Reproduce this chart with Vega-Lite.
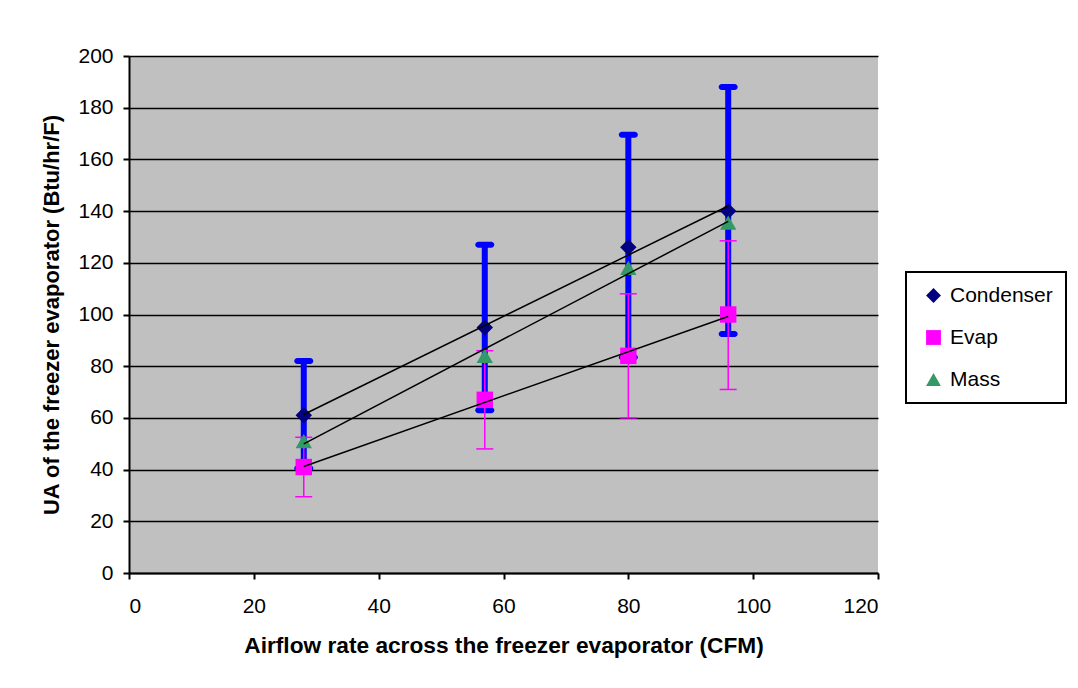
{
  "$schema": "https://vega.github.io/schema/vega-lite/v6.json",
  "autosize": "none",
  "width": 749,
  "height": 517,
  "padding": {"left": 129, "top": 56, "right": 200, "bottom": 115},
  "background": "white",
  "data": {
    "values": [
      {"airflow": 28, "series": "Condenser", "ua": 61, "low": 40.5, "high": 82},
      {"airflow": 57, "series": "Condenser", "ua": 95, "low": 63, "high": 127},
      {"airflow": 80, "series": "Condenser", "ua": 126, "low": 83.5, "high": 169.5},
      {"airflow": 96, "series": "Condenser", "ua": 140, "low": 92.5, "high": 188},
      {"airflow": 28, "series": "Evap", "ua": 41, "low": 29.5, "high": 52.5},
      {"airflow": 57, "series": "Evap", "ua": 67, "low": 48, "high": 86},
      {"airflow": 80, "series": "Evap", "ua": 84, "low": 60, "high": 108},
      {"airflow": 96, "series": "Evap", "ua": 100, "low": 71, "high": 128.5},
      {"airflow": 28, "series": "Mass", "ua": 51, "low": null, "high": null},
      {"airflow": 57, "series": "Mass", "ua": 84, "low": null, "high": null},
      {"airflow": 80, "series": "Mass", "ua": 118, "low": null, "high": null},
      {"airflow": 96, "series": "Mass", "ua": 135.5, "low": null, "high": null}
    ]
  },
  "encoding": {
    "x": {
      "field": "airflow",
      "type": "quantitative",
      "scale": {"domain": [0, 120], "nice": false, "zero": true},
      "axis": {
        "title": "Airflow rate across the freezer evaporator (CFM)",
        "values": [0, 20, 40, 60, 80, 100, 120],
        "grid": false,
        "labelPadding": 16,
        "titlePadding": 18,
        "titleFontSize": 22.7
      }
    }
  },
  "layer": [
    {
      "transform": [{"filter": "datum.series === 'Condenser'"}],
      "mark": {"type": "rule", "color": "#0000FF", "strokeWidth": 6},
      "encoding": {
        "y": {
          "field": "low",
          "type": "quantitative",
          "scale": {"domain": [0, 200], "nice": false},
          "axis": {
            "title": "UA of the freezer evaporator (Btu/hr/F)",
            "values": [0, 20, 40, 60, 80, 100, 120, 140, 160, 180, 200],
            "grid": true,
            "titlePadding": 14
          }
        },
        "y2": {"field": "high"}
      }
    },
    {
      "transform": [{"filter": "datum.series === 'Condenser'"}],
      "mark": {"type": "tick", "orient": "horizontal", "color": "#0000FF", "size": 19, "thickness": 6, "cornerRadius": 3, "opacity": 1},
      "encoding": {"y": {"field": "high", "type": "quantitative"}}
    },
    {
      "transform": [{"filter": "datum.series === 'Condenser'"}],
      "mark": {"type": "tick", "orient": "horizontal", "color": "#0000FF", "size": 19, "thickness": 6, "cornerRadius": 3, "opacity": 1},
      "encoding": {"y": {"field": "low", "type": "quantitative"}}
    },
    {
      "transform": [{"filter": "datum.series === 'Evap'"}],
      "mark": {"type": "rule", "color": "#FF00FF", "strokeWidth": 1.5},
      "encoding": {
        "y": {"field": "low", "type": "quantitative"},
        "y2": {"field": "high"}
      }
    },
    {
      "transform": [{"filter": "datum.series === 'Evap'"}],
      "mark": {"type": "tick", "orient": "horizontal", "color": "#FF00FF", "size": 17, "thickness": 1.5, "opacity": 1},
      "encoding": {"y": {"field": "high", "type": "quantitative"}}
    },
    {
      "transform": [{"filter": "datum.series === 'Evap'"}],
      "mark": {"type": "tick", "orient": "horizontal", "color": "#FF00FF", "size": 17, "thickness": 1.5, "opacity": 1},
      "encoding": {"y": {"field": "low", "type": "quantitative"}}
    },
    {
      "mark": {"type": "point", "filled": true, "opacity": 1, "size": 270},
      "encoding": {
        "y": {"field": "ua", "type": "quantitative"},
        "color": {
          "field": "series",
          "type": "nominal",
          "scale": {"domain": ["Condenser", "Evap", "Mass"], "range": ["#000080", "#FF00FF", "#339966"]},
          "legend": {"title": null, "orient": "none", "legendX": 777, "legendY": 216}
        },
        "shape": {
          "field": "series",
          "type": "nominal",
          "scale": {"domain": ["Condenser", "Evap", "Mass"], "range": ["diamond", "square", "triangle-up"]},
          "legend": {"title": null, "orient": "none", "legendX": 777, "legendY": 216}
        }
      }
    },
    {
      "transform": [{"regression": "ua", "on": "airflow", "groupby": ["series"]}],
      "mark": {"type": "line", "color": "black", "strokeWidth": 1.5},
      "encoding": {
        "y": {"field": "ua", "type": "quantitative"},
        "detail": {"field": "series", "type": "nominal"}
      }
    }
  ],
  "config": {
    "font": "Liberation Sans",
    "view": {"fill": "#C0C0C0", "stroke": null},
    "axis": {
      "labelFont": "Liberation Sans",
      "labelFontSize": 21,
      "labelColor": "black",
      "titleFont": "Liberation Sans",
      "titleFontSize": 22,
      "titleFontWeight": "bold",
      "titleColor": "black",
      "domainColor": "black",
      "domainWidth": 2,
      "tickColor": "black",
      "tickWidth": 2,
      "tickSize": 6,
      "gridColor": "black",
      "gridWidth": 1.5,
      "gridOpacity": 1,
      "labelPadding": 10
    },
    "legend": {
      "labelFont": "Liberation Sans",
      "labelFontSize": 21,
      "labelColor": "black",
      "symbolSize": 220,
      "symbolStrokeWidth": 0,
      "symbolOpacity": 1,
      "symbolOffset": 4,
      "labelOffset": 6,
      "rowPadding": 20,
      "padding": 13,
      "strokeColor": "black",
      "strokeWidth": 2,
      "fillColor": "white"
    }
  }
}
